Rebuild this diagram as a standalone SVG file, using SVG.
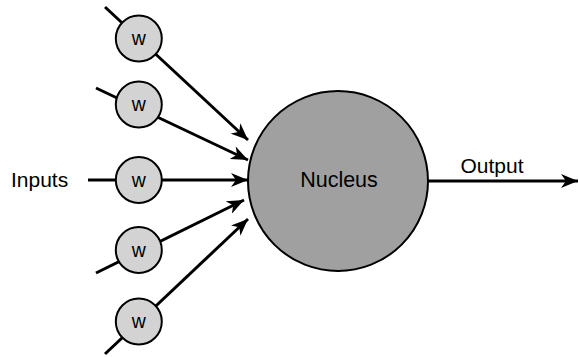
<svg xmlns="http://www.w3.org/2000/svg" width="579" height="357" viewBox="0 0 579 357">
<style>
.w{fill:#d3d3d3;stroke:#000;stroke-width:2}
.nuc{fill:#a0a0a0;stroke:#000;stroke-width:2}
.ln{stroke:#000;stroke-width:3;fill:none}
.t{font-family:"Liberation Sans",Arial,sans-serif;fill:#000}
.wt{font-size:19.5px;text-anchor:middle}
</style>
<defs>
<marker id="ah" markerUnits="userSpaceOnUse" markerWidth="18" markerHeight="14" refX="17" refY="7" orient="auto" viewBox="0 0 18 14">
<path d="M0,0 L17,7 L0,14 L5,7 Z" fill="#000"/>
</marker>
</defs>
<g id="connectors">
<line class="ln" x1="105" y1="7" x2="248" y2="140" marker-end="url(#ah)"/>
<line class="ln" x1="96" y1="88" x2="248" y2="160" marker-end="url(#ah)"/>
<line class="ln" x1="88" y1="180" x2="248" y2="180" marker-end="url(#ah)"/>
<line class="ln" x1="96" y1="273" x2="244" y2="200" marker-end="url(#ah)"/>
<line class="ln" x1="105" y1="354" x2="248" y2="219" marker-end="url(#ah)"/>
<line class="ln" x1="428" y1="181" x2="578" y2="181" marker-end="url(#ah)"/>
</g>
<g id="w1"><circle class="w" cx="138.8" cy="38.5" r="23"/><text class="t wt" x="138.8" y="45">w</text></g>
<g id="w2"><circle class="w" cx="138.8" cy="104.5" r="23"/><text class="t wt" x="138.8" y="111">w</text></g>
<g id="w3"><circle class="w" cx="138.8" cy="180" r="23"/><text class="t wt" x="138.8" y="186.7">w</text></g>
<g id="w4"><circle class="w" cx="138.8" cy="250" r="23"/><text class="t wt" x="138.8" y="256.7">w</text></g>
<g id="w5"><circle class="w" cx="138.8" cy="321.5" r="23"/><text class="t wt" x="138.8" y="328">w</text></g>
<g id="nucleus"><circle class="nuc" cx="338" cy="181" r="90"/><text class="t" x="339" y="186.7" font-size="21.5" text-anchor="middle">Nucleus</text></g>
<g id="inputs"><text class="t" x="11" y="186.7" font-size="21">Inputs</text></g>
<g id="output"><text class="t" x="460.5" y="172.7" font-size="21">Output</text></g>
</svg>
